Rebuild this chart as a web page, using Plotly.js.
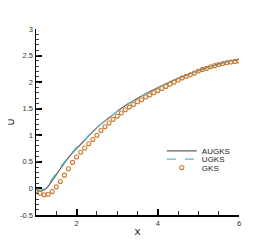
<!DOCTYPE html>
<html>
<head>
<meta charset="utf-8">
<script src="https://cdn.plot.ly/plotly-3.0.1.min.js"></script>
<style>html,body{margin:0;padding:0;background:#fff;}#chart{width:273px;height:242px;}</style>
</head>
<body>
<div id="chart"></div>
<script>
var xAUGKS = [1.0,1.1,1.2,1.3,1.4,1.5,1.6,1.7,1.8,1.9,2.0,2.2,2.4,2.6,2.8,3.0,3.2,3.4,3.6,3.8,4.0,4.2,4.4,4.6,4.8,5.0,5.2,5.4,5.6,5.8,6.0];
var yAUGKS = [-0.02,-0.05,-0.03,0.04,0.15,0.26,0.37,0.48,0.58,0.67,0.75,0.91,1.07,1.21,1.33,1.45,1.56,1.65,1.74,1.82,1.90,1.97,2.04,2.10,2.16,2.22,2.27,2.32,2.36,2.40,2.43];
var xUGKS = [1.0,1.1,1.2,1.3,1.4,1.5,1.6,1.7,1.8,1.9,2.0,2.2,2.4,2.6,2.8,3.0,3.2,3.4,3.6,3.8,4.0,4.2,4.4,4.6,4.8,5.0,5.2,5.4,5.6,5.8,6.0];
var yUGKS = [-0.01,-0.03,0.00,0.07,0.18,0.29,0.40,0.50,0.60,0.69,0.77,0.92,1.08,1.21,1.33,1.45,1.55,1.65,1.74,1.82,1.89,1.97,2.03,2.10,2.16,2.21,2.27,2.31,2.36,2.40,2.42];
var xGKS = [1.0,1.1,1.2,1.3,1.4,1.5,1.6,1.7,1.8,1.9,2.0,2.1,2.2,2.3,2.4,2.5,2.6,2.7,2.8,2.9,3.0,3.1,3.2,3.3,3.4,3.5,3.6,3.7,3.8,3.9,4.0,4.1,4.2,4.3,4.4,4.5,4.6,4.7,4.8,4.9,5.0,5.1,5.2,5.3,5.4,5.5,5.6,5.7,5.8,5.9,6.0];
var yGKS = [-0.04,-0.09,-0.12,-0.11,-0.06,0.03,0.13,0.25,0.37,0.49,0.59,0.68,0.76,0.84,0.92,1.00,1.09,1.16,1.23,1.30,1.36,1.42,1.48,1.53,1.58,1.63,1.67,1.72,1.76,1.80,1.84,1.88,1.92,1.96,2.00,2.04,2.08,2.11,2.14,2.17,2.21,2.24,2.26,2.29,2.31,2.33,2.35,2.37,2.38,2.39,2.40];
var xTickVals = [2,4,6];
var yTickVals = [-0.5,0,0.5,1,1.5,2,2.5,3];
var yTickText = ['-0.5','0','0.5','1','1.5','2','2.5','3'];

var FONT = 'Liberation Sans, Arial, sans-serif';
var traces = [
  {x:xAUGKS, y:yAUGKS, name:'AUGKS', mode:'lines', line:{color:'#606060', width:1.2, shape:'spline'}, legend:'legend'},
  {x:xUGKS, y:yUGKS, name:'UGKS', mode:'lines', line:{color:'#5fbcbf', width:1.2, dash:'dash', shape:'spline'}, legend:'legend2'},
  {x:xGKS, y:yGKS, name:'GKS', mode:'markers', marker:{symbol:'circle-open', size:4, color:'#cd7a2e', line:{width:1.1, color:'#cd7a2e'}}, legend:'legend3'},
  {x:xGKS, y:yGKS, yaxis:'y2', mode:'lines', line:{color:'rgba(0,0,0,0)', width:0}, showlegend:false, hoverinfo:'skip'}
];
function leg(y){
  return {x:0.62, y:y, xanchor:'left', yanchor:'middle', bgcolor:'rgba(0,0,0,0)',
    font:{family:FONT, size:8, color:'#222'}, borderwidth:0, itemwidth:30};
}
var layout = {
  width:273, height:242,
  margin:{l:36, r:34, t:29, b:27},
  paper_bgcolor:'#fff', plot_bgcolor:'#fff',
  showlegend:true,
  legend:leg(0.345), legend2:leg(0.30), legend3:leg(0.255),
  xaxis:{range:[1,6], tickvals:xTickVals, ticks:'inside', ticklen:6, tickwidth:2, tickcolor:'#000',
    showline:true, linecolor:'#000', linewidth:1.5, showgrid:false, zeroline:false,
    minor:{dtick:0.5, tick0:0, ticks:'inside', ticklen:4, tickcolor:'#333', tickwidth:1, showgrid:false},
    tickfont:{family:FONT, size:7.5, color:'#333'},
    title:{text:'X', font:{family:FONT, size:9, color:'#000'}, standoff:2}},
  yaxis:{range:[-0.5,3], tickvals:yTickVals, ticktext:yTickText, ticks:'inside', ticklen:6, tickwidth:2, tickcolor:'#000',
    showline:true, linecolor:'#000', linewidth:1.5, showgrid:false, zeroline:false,
    tickfont:{family:FONT, size:7.5, color:'#333'},
    title:{text:'U', font:{family:FONT, size:9, color:'#000'}, standoff:4}},
  yaxis2:{overlaying:'y', side:'left', range:[-0.5,3], tick0:0, dtick:0.1, ticks:'inside', ticklen:3, tickwidth:1, tickcolor:'#444',
    showticklabels:false, showgrid:false, zeroline:false, showline:false}
};
Plotly.newPlot('chart', traces, layout, {staticPlot:true, displayModeBar:false});
</script>
</body>
</html>
